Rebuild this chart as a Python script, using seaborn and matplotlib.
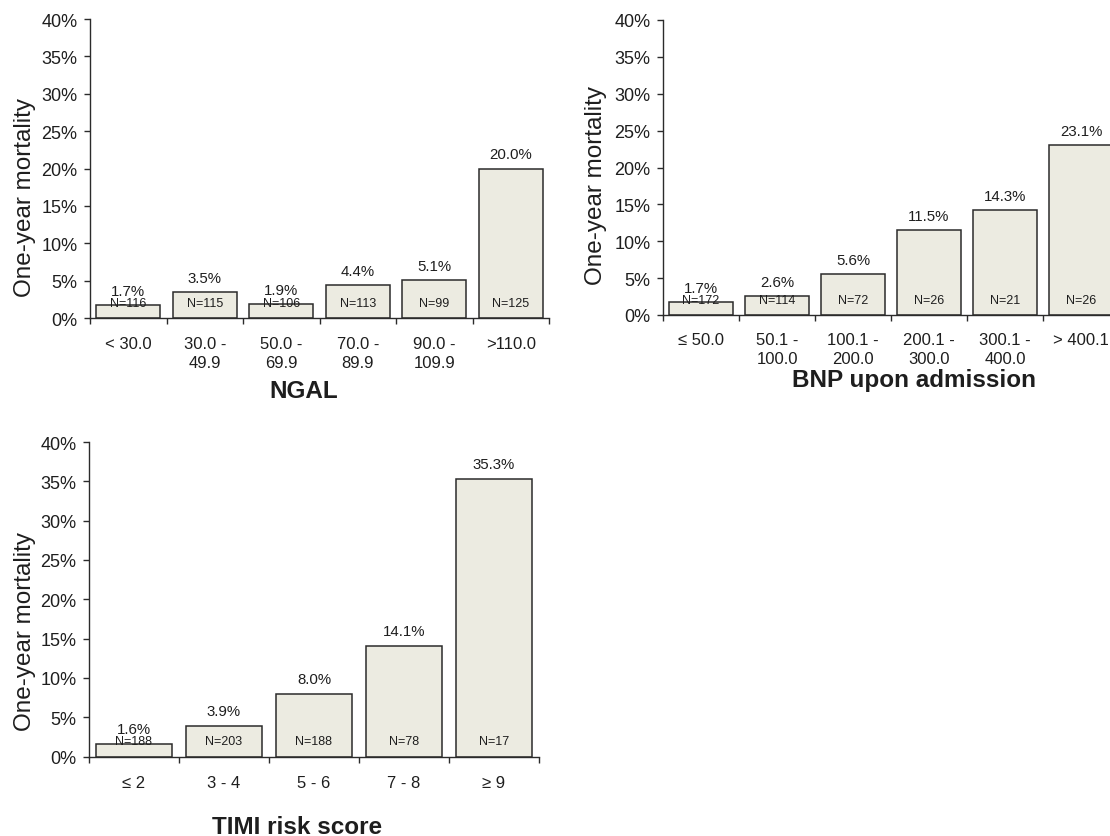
import numpy as np
import pandas as pd
import seaborn as sns
import matplotlib.pyplot as plt
from matplotlib.ticker import FixedLocator, FuncFormatter

# NGAL panel
ngal_cats = ["< 30.0", "30.0 -\n49.9", "50.0 -\n69.9", "70.0 -\n89.9", "90.0 -\n109.9", ">110.0"]
ngal_mort = [1.7, 3.5, 1.9, 4.4, 5.1, 20.0]
ngal_n = [116, 115, 106, 113, 99, 125]

# BNP panel
bnp_cats = ["\u2264 50.0", "50.1 -\n100.0", "100.1 -\n200.0", "200.1 -\n300.0", "300.1 -\n400.0", "> 400.1"]
bnp_mort = [1.7, 2.6, 5.6, 11.5, 14.3, 23.1]
bnp_n = [172, 114, 72, 26, 21, 26]

# TIMI panel
timi_cats = ["\u2264 2", "3 - 4", "5 - 6", "7 - 8", "\u2265 9"]
timi_mort = [1.6, 3.9, 8.0, 14.1, 35.3]
timi_n = [188, 203, 188, 78, 17]

sns.set_style("ticks")
plt.rcParams["font.family"] = ["Liberation Sans", "DejaVu Sans"]

BAR = "#ecebe1"
EDGE = "#2b2b2b"
TXT = "#1e1e1e"

W, H = 1110, 837
fig = plt.figure(figsize=(W / 100, H / 100), dpi=100)


def panel(rect, cats, mort, ns, xlabel, xlab_pos, ylab_pos, tick_pad):
    ax = fig.add_axes(rect)
    df = pd.DataFrame({"cat": cats, "mort": mort})
    sns.barplot(
        data=df, x="cat", y="mort", order=cats, color=BAR,
        edgecolor=EDGE, linewidth=1.1, width=0.84, saturation=1, ax=ax,
    )
    n = len(cats)
    ax.set_xlim(-0.5, n - 0.5)
    ax.set_ylim(0, 40)
    ax.set_yticks(np.arange(0, 41, 5))
    ax.yaxis.set_major_formatter(FuncFormatter(lambda v, p: f"{v:.0f}%"))
    ax.tick_params(axis="y", labelsize=13, length=4, width=1, pad=5,
                   colors=EDGE, labelcolor=TXT)

    # boundary ticks, labels centred between them
    ax.xaxis.set_major_locator(FixedLocator(np.arange(n + 1) - 0.5))
    ax.xaxis.set_minor_locator(FixedLocator(np.arange(n)))
    ax.set_xticklabels([], minor=False)
    ax.set_xticklabels(cats, minor=True)
    ax.tick_params(axis="x", which="major", length=4, width=1, colors=EDGE)
    ax.tick_params(axis="x", which="minor", length=0, labelsize=12,
                   pad=tick_pad, labelcolor=TXT)
    for lbl in ax.get_xticklabels(minor=True):
        lbl.set_linespacing(1.3)

    for i, (v, c) in enumerate(zip(mort, ns)):
        ax.text(i, v + 1.9, f"{v:.1f}%", ha="center", va="center",
                fontsize=10.8, color=TXT)
        ax.text(i, 2.0, f"N={c}", ha="center", va="center",
                fontsize=9, color=TXT)

    ax.set_xlabel(xlabel, fontsize=17.5, fontweight="bold", color=TXT)
    ax.xaxis.label.set_va("center")
    ax.xaxis.set_label_coords(*xlab_pos)
    ax.set_ylabel("One-year mortality", fontsize=17.5, color=TXT)
    ax.yaxis.label.set_va("center")
    ax.yaxis.set_label_coords(*ylab_pos)

    sns.despine(ax=ax)
    for s in ("left", "bottom"):
        ax.spines[s].set_color(EDGE)
        ax.spines[s].set_linewidth(1)
    return ax


panel([90 / W, 1 - 319 / H, 459 / W, 299 / H], ngal_cats, ngal_mort, ngal_n,
      "NGAL", (0.466, -0.244), (-0.142, 0.408), 13)
panel([663 / W, 1 - 316 / H, 456 / W, 295 / H], bnp_cats, bnp_mort, bnp_n,
      "BNP upon admission", (0.55, -0.217), (-0.147, 0.443), 12.5)
panel([89 / W, 1 - 757.5 / H, 450 / W, 314.5 / H], timi_cats, timi_mort, timi_n,
      "TIMI risk score", (0.462, -0.223), (-0.142, 0.40), 13.5)

fig.savefig("out.png", dpi=100)
